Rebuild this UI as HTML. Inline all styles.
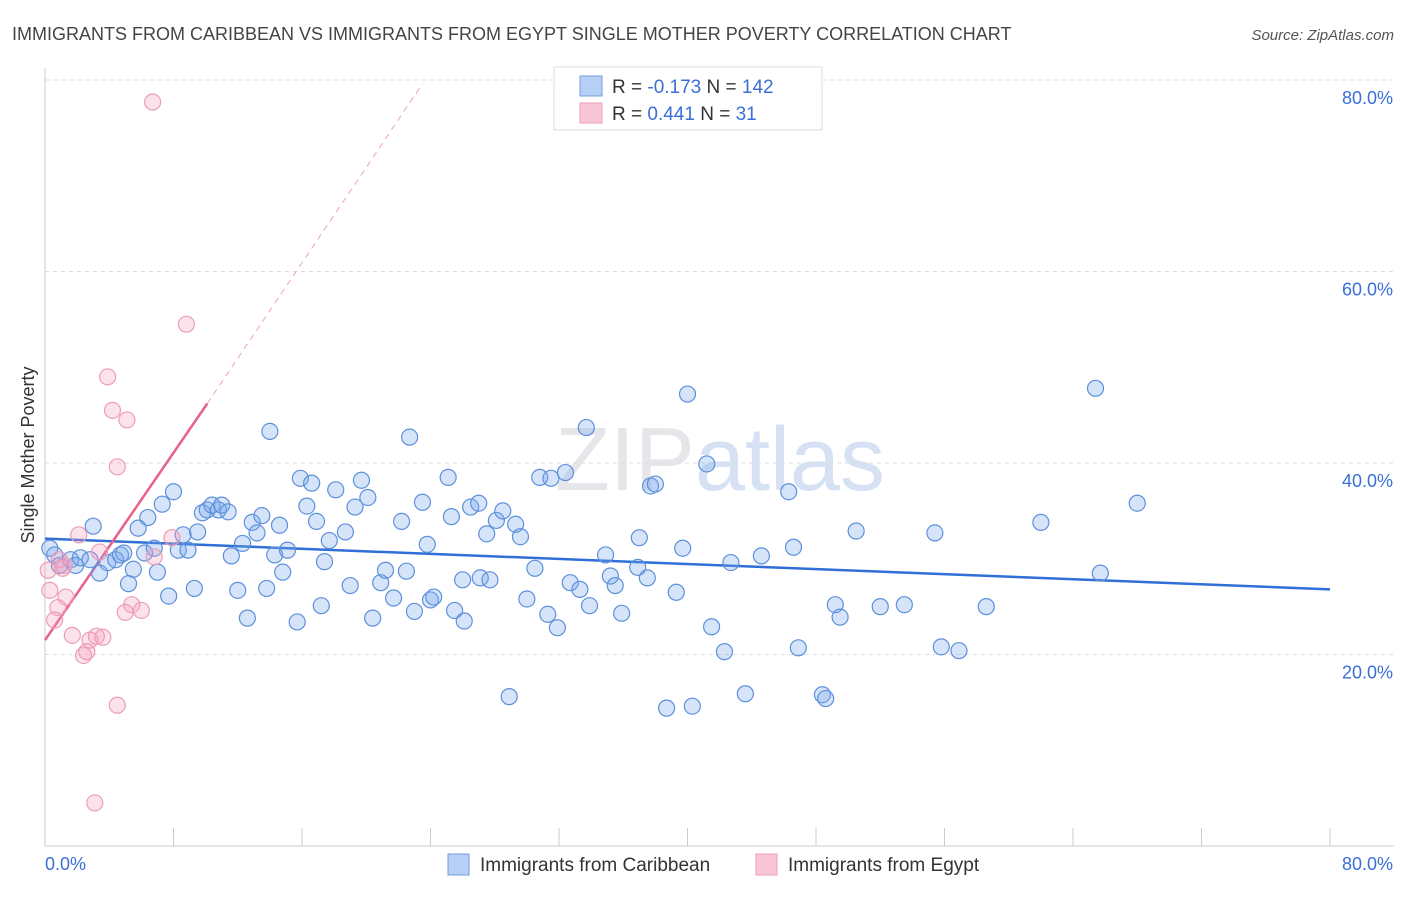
<!DOCTYPE html>
<html><head><meta charset="utf-8"><style>
body{margin:0;background:#fff;font-family:"Liberation Sans",sans-serif;}
svg text{font-family:"Liberation Sans",sans-serif;}
</style></head><body>
<svg id="chart" width="1406" height="892" viewBox="0 0 1406 892" xmlns="http://www.w3.org/2000/svg">
<text x="12" y="40" font-size="18" fill="#444">IMMIGRANTS FROM CARIBBEAN VS IMMIGRANTS FROM EGYPT SINGLE MOTHER POVERTY CORRELATION CHART</text>
<text x="1394" y="40" font-size="15" fill="#555" font-style="italic" text-anchor="end">Source: ZipAtlas.com</text>
<text x="720" y="490" font-size="90" fill="#e6e6ea" text-anchor="middle" font-family="Liberation Serif">ZIP<tspan fill="#d6e2f4" font-family="Liberation Sans">atlas</tspan></text>
<g id="grid"></g>
<g id="axes"></g>
<g id="trend"></g>
<g id="points"></g>
<text transform="translate(34,455) rotate(-90)" font-size="18" fill="#333" text-anchor="middle">Single Mother Poverty</text>
<g>
<rect x="554" y="67" width="268" height="63" fill="#fff" stroke="#ddd"/>
<rect x="580" y="76" width="22" height="20" fill="#b8d0f5" stroke="#6f9de0"/>
<rect x="580" y="103" width="22" height="20" fill="#f9c6d6" stroke="#eba0b9"/>
<text x="612" y="93" font-size="19" fill="#333">R = <tspan fill="#3a6fd8">-0.173</tspan>   N = <tspan fill="#3a6fd8">142</tspan></text>
<text x="612" y="120" font-size="19" fill="#333">R =  <tspan fill="#3a6fd8">0.441</tspan>   N =   <tspan fill="#3a6fd8">31</tspan></text>
</g>
<g>
<rect x="448" y="854" width="21" height="21" fill="#b8d0f5" stroke="#6f9de0"/>
<text x="480" y="871" font-size="19" fill="#333">Immigrants from Caribbean</text>
<rect x="756" y="854" width="21" height="21" fill="#f9c6d6" stroke="#eba0b9"/>
<text x="788" y="871" font-size="19" fill="#333">Immigrants from Egypt</text>
</g>
</svg>
<script>
const blueX=[0.3,0.6,0.9,1.6,1.9,2.2,2.8,3.0,3.4,3.9,4.4,4.7,4.9,5.2,5.5,5.8,6.2,6.4,6.8,7.0,7.3,7.7,8.0,8.3,8.6,8.9,9.3,9.5,9.8,10.1,10.4,10.8,11.0,11.4,11.6,12.0,12.3,12.6,12.9,13.2,13.5,13.8,14.0,14.3,14.6,14.8,15.1,15.7,15.9,16.3,16.6,16.9,17.4,17.2,17.7,18.1,18.7,19.0,19.3,19.7,20.1,20.4,20.9,21.2,21.7,22.2,22.5,22.7,23.0,23.5,23.8,24.0,24.2,25.1,25.3,25.5,26.0,26.1,26.5,27.0,27.1,27.5,27.7,28.1,28.5,28.9,29.3,29.6,30.0,30.5,30.8,31.3,31.5,31.9,32.4,32.7,33.3,33.7,33.9,34.9,35.2,35.5,35.9,36.9,37.0,37.5,37.7,38.0,38.7,39.3,39.7,40.0,40.3,41.2,41.5,42.3,42.7,43.6,44.6,46.3,46.6,46.9,48.4,48.6,49.2,49.5,50.5,52.0,53.5,55.4,55.8,56.9,58.6,62.0,65.4,65.7,68.0];
const blueY=[31.1,30.4,29.3,29.9,29.3,30.1,29.9,33.4,28.5,29.6,29.9,30.4,30.6,27.4,28.9,33.2,30.6,34.3,31.1,28.6,35.7,26.1,37.0,30.9,32.5,30.9,26.9,32.8,34.8,35.1,35.6,35.1,35.6,34.9,30.3,26.7,31.6,23.8,33.8,32.7,34.5,26.9,43.3,30.4,33.5,28.6,30.9,23.4,38.4,35.5,37.9,33.9,29.7,25.1,31.9,37.2,32.8,27.2,35.4,38.2,36.4,23.8,27.5,28.8,25.9,33.9,28.7,42.7,24.5,35.9,31.5,25.7,26.0,38.5,34.4,24.6,27.8,23.5,35.4,35.8,28.0,32.6,27.8,34.0,35.0,15.6,33.6,32.3,25.8,29.0,38.5,24.2,38.4,22.8,39.0,27.5,26.8,43.7,25.1,30.4,28.2,27.2,24.3,29.1,32.2,28.0,37.6,37.8,14.4,26.5,31.1,47.2,14.6,39.9,22.9,20.3,29.6,15.9,30.3,37.0,31.2,20.7,15.8,15.4,25.2,23.9,32.9,25.0,25.2,32.7,20.8,20.4,25.0,33.8,47.8,28.5,35.8];
const pinkX=[0.2,0.3,0.6,0.8,1.1,1.3,1.7,2.1,2.4,2.6,2.8,3.2,3.4,3.6,3.1,3.9,4.2,4.5,4.5,5.0,5.1,5.4,6.0,6.7,6.8,7.9,8.8,0.9,1.2];
const pinkY=[28.8,26.7,23.6,24.9,29.0,26.0,22.0,32.5,19.9,20.3,21.5,21.9,30.7,21.8,4.5,49.0,45.5,14.7,39.6,24.4,44.5,25.2,24.6,77.7,30.2,32.2,54.5,29.9,29.3];
const yTicks=[20,40,60,80];
const yTickLabels=["20.0%","40.0%","60.0%","80.0%"];
const xTicks=[0,8,16,24,32,40,48,56,64,72,80];
const blueTrend=[[0,32.1],[80,26.8]];
const pinkTrendSolid=[[0,21.5],[10.1,46.2]];
const pinkTrendDash=[[10.1,46.2],[23.5,79.6]];

const NS="http://www.w3.org/2000/svg";
const X0=45,X1=1330,Y0=846,PXPER=191.5/20;
const xs=v=>X0+(v/80)*(X1-X0);
const ys=v=>Y0-v*PXPER;
function mk(tag,attrs,parent){const e=document.createElementNS(NS,tag);for(const k in attrs)e.setAttribute(k,attrs[k]);parent.appendChild(e);return e;}
const grid=document.getElementById('grid'),axes=document.getElementById('axes'),trend=document.getElementById('trend'),pts=document.getElementById('points');
yTicks.forEach((t,i)=>{
  const l=mk('line',{x1:X0,x2:1394,y1:ys(t),y2:ys(t),stroke:'#ddd','stroke-dasharray':'4,4'},grid);
  
  
  const tx=mk('text',{x:1393,y:ys(t)+24,'font-size':18,fill:'#3a6fd8','text-anchor':'end'},axes);
  tx.textContent=yTickLabels[i];
  
  
});
const ax=mk('line',{x1:X0,x2:X0,y1:68,y2:Y0,stroke:'#ccc'},axes);


const bx=mk('line',{x1:X0,x2:1394,y1:Y0,y2:Y0,stroke:'#ccc'},axes);


xTicks.forEach(t=>{
  const l=mk('line',{x1:xs(t),x2:xs(t),y1:Y0,y2:Y0-18,stroke:'#ccc'},axes);
  
  
});
const xl=mk('text',{x:45,y:870,'font-size':18,fill:'#3a6fd8'},axes);xl.textContent='0.0%';


const xr=mk('text',{x:1393,y:870,'font-size':18,fill:'#3a6fd8','text-anchor':'end'},axes);xr.textContent='80.0%';


blueX.forEach((v,i)=>{
  const c=mk('circle',{cx:xs(v),cy:ys(blueY[i]),r:8,fill:'rgba(120,165,235,0.3)',stroke:'#5d90db','stroke-width':1.2},pts);
  
  
});
pinkX.forEach((v,i)=>{
  const c=mk('circle',{cx:xs(v),cy:ys(pinkY[i]),r:8,fill:'rgba(245,160,190,0.3)',stroke:'#eb9db8','stroke-width':1.2},pts);
  
  
});
const bt=mk('line',{x1:xs(blueTrend[0][0]),y1:ys(blueTrend[0][1]),x2:xs(blueTrend[1][0]),y2:ys(blueTrend[1][1]),stroke:'#2f6fd6','stroke-width':2.5},trend);


const pt=mk('line',{x1:xs(pinkTrendSolid[0][0]),y1:ys(pinkTrendSolid[0][1]),x2:xs(pinkTrendSolid[1][0]),y2:ys(pinkTrendSolid[1][1]),stroke:'#e8608c','stroke-width':2.5},trend);


const pd=mk('line',{x1:xs(pinkTrendDash[0][0]),y1:ys(pinkTrendDash[0][1]),x2:xs(pinkTrendDash[1][0]),y2:ys(pinkTrendDash[1][1]),stroke:'#eaa0b8','stroke-width':1,'stroke-dasharray':'6,5'},trend);


</script>
</body></html>
